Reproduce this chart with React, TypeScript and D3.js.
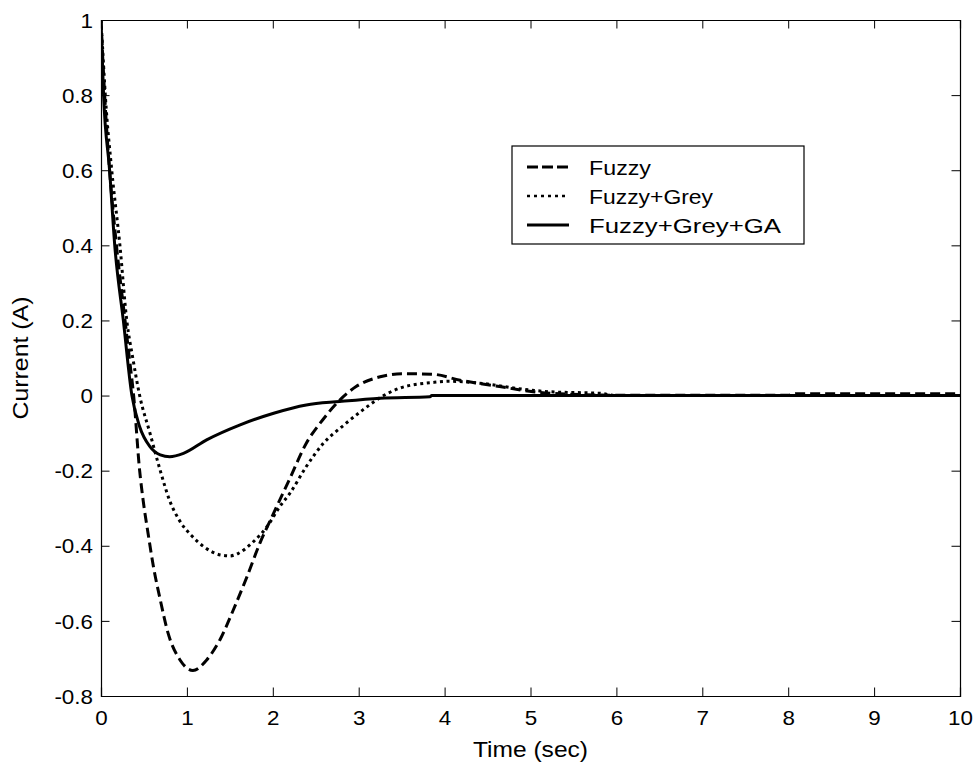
import React, { useEffect, useRef } from "react";
import * as d3 from "d3";

// Fuzzy controller (dashed)
const fuzzyT = [0, 0.02, 0.05, 0.1, 0.18, 0.28, 0.33, 0.38, 0.45, 0.49, 0.55, 0.61, 0.69, 0.78, 0.92, 1.07, 1.23, 1.385, 1.54, 1.7, 1.85, 2.01, 2.2, 2.39, 2.58, 2.78, 2.97, 3.25, 3.5, 3.85, 4.18, 4.64, 5.03, 5.42, 6.0, 8.0, 8.1, 10];
const fuzzyI = [1.0, 0.9, 0.77, 0.6, 0.4, 0.2, 0.1, 0.0, -0.2, -0.278, -0.37, -0.455, -0.544, -0.632, -0.704, -0.732, -0.704, -0.65, -0.571, -0.482, -0.393, -0.313, -0.22, -0.127, -0.065, -0.012, 0.024, 0.05, 0.058, 0.057, 0.041, 0.024, 0.01, 0.004, 0.001, 0.001, 0.005, 0.005];

// Fuzzy+Grey (dotted)
const greyT = [0, 0.02, 0.05, 0.125, 0.22, 0.3, 0.37, 0.45, 0.57, 0.69, 0.8, 0.92, 1.05, 1.2, 1.4, 1.5, 1.6, 1.77, 1.93, 2.08, 2.2, 2.39, 2.59, 2.82, 3.05, 3.29, 3.48, 3.87, 4.06, 4.45, 4.84, 5.23, 5.81, 6.0, 10];
const greyI = [1.0, 0.92, 0.8, 0.6, 0.4, 0.2, 0.1, 0.0, -0.1, -0.2, -0.28, -0.335, -0.372, -0.403, -0.425, -0.427, -0.42, -0.39, -0.35, -0.296, -0.26, -0.189, -0.127, -0.08, -0.038, 0.0, 0.02, 0.035, 0.038, 0.032, 0.019, 0.01, 0.006, 0.0, 0.0];

// Fuzzy+Grey+GA (solid)
const gaT = [0, 0.03, 0.1, 0.16, 0.26, 0.36, 0.45, 0.57, 0.69, 0.8, 0.96, 1.23, 1.62, 2.01, 2.39, 2.78, 3.25, 3.83, 3.85, 10];
const gaI = [1.0, 0.8, 0.6, 0.4, 0.2, 0.0, -0.083, -0.136, -0.158, -0.163, -0.154, -0.118, -0.078, -0.047, -0.025, -0.016, -0.007, -0.003, 0.0, 0.0];

const seriesNames = ["Fuzzy", "Fuzzy+Grey", "Fuzzy+Grey+GA"];
const xTicks = [0, 1, 2, 3, 4, 5, 6, 7, 8, 9, 10];
const yTicks = [-0.8, -0.6, -0.4, -0.2, 0, 0.2, 0.4, 0.6, 0.8, 1];

const W = 979;
const H = 769;
const margin = { top: 20, right: 19, bottom: 73, left: 101 };
const font = "'Liberation Sans', Arial, Helvetica, sans-serif";

export default function App() {
  const ref = useRef<SVGSVGElement>(null);

  useEffect(() => {
    document.body.style.margin = "0";
    const svg = d3.select(ref.current);
    svg.selectAll("*").remove();

    const w = W - margin.left - margin.right;
    const h = H - margin.top - margin.bottom;
    const g = svg.append("g").attr("transform", `translate(${margin.left},${margin.top})`);

    const x = d3.scaleLinear().domain([0, 10]).range([0, w]);
    const y = d3.scaleLinear().domain([-0.8, 1]).range([h, 0]);

    const styles = [
      { t: fuzzyT, v: fuzzyI, dash: "10,5", width: 3 },
      { t: greyT, v: greyI, dash: "3,3.6", width: 3 },
      { t: gaT, v: gaI, dash: null, width: 3 },
    ];

    g.append("clipPath").attr("id", "plotclip")
      .append("rect").attr("x", 0).attr("y", -2).attr("width", w).attr("height", h + 2);

    const line = d3.line<[number, number]>()
      .x((d) => x(d[0]))
      .y((d) => y(d[1]))
      .curve(d3.curveMonotoneX);

    styles.forEach((s) => {
      const pts = s.t.map((t, i) => [t, s.v[i]] as [number, number]);
      g.append("path")
        .attr("d", line(pts))
        .attr("fill", "none")
        .attr("stroke", "#000")
        .attr("stroke-width", s.width)
        .attr("stroke-dasharray", s.dash)
        .attr("clip-path", "url(#plotclip)");
    });

    const tick = 8.5;
    const sx = 1.12;

    // bottom and top axes
    const bottom = g.append("g").attr("transform", `translate(0,${h})`)
      .call(d3.axisBottom(x).tickValues(xTicks).tickSize(-tick).tickPadding(0).tickFormat((d) => String(d)));
    bottom.selectAll("text")
      .attr("y", 29)
      .attr("dy", null)
      .attr("transform", `scale(${sx},1)`);
    g.append("g")
      .call(d3.axisTop(x).tickValues(xTicks).tickSize(-tick).tickFormat(() => ""));

    // left and right axes
    const left = g.append("g")
      .call(d3.axisLeft(y).tickValues(yTicks).tickSize(-tick).tickPadding(0).tickFormat((d) => String(+d)));
    left.selectAll("text")
      .attr("x", -8 / sx)
      .attr("dy", "0.36em")
      .attr("transform", `scale(${sx},1)`);
    g.append("g").attr("transform", `translate(${w},0)`)
      .call(d3.axisRight(y).tickValues(yTicks).tickSize(-tick).tickFormat(() => ""));

    g.selectAll(".domain").attr("stroke", "#000").attr("stroke-width", 1.2);
    g.selectAll(".tick line").attr("stroke", "#000").attr("stroke-width", 1);
    g.selectAll(".tick text")
      .style("font-family", font)
      .style("font-size", "20px")
      .attr("fill", "#000");

    // axis labels
    svg.append("text")
      .attr("x", margin.left + w / 2)
      .attr("y", 757)
      .attr("text-anchor", "middle")
      .attr("textLength", 115)
      .attr("lengthAdjust", "spacingAndGlyphs")
      .style("font-family", font)
      .style("font-size", "21.5px")
      .text("Time (sec)");

    svg.append("text")
      .attr("transform", `translate(28,${margin.top + h / 2}) rotate(-90)`)
      .attr("text-anchor", "middle")
      .attr("textLength", 123)
      .attr("lengthAdjust", "spacingAndGlyphs")
      .style("font-family", font)
      .style("font-size", "21.5px")
      .text("Current (A)");

    // legend
    const lg = svg.append("g");
    lg.append("rect")
      .attr("x", 512).attr("y", 146)
      .attr("width", 292).attr("height", 98)
      .attr("fill", "#fff").attr("stroke", "#000").attr("stroke-width", 1.2);
    const rows = [167, 196, 225];
    const widths = [62, 124, 192];
    seriesNames.forEach((name, i) => {
      lg.append("line")
        .attr("x1", 527).attr("x2", 569)
        .attr("y1", rows[i]).attr("y2", rows[i])
        .attr("stroke", "#000")
        .attr("stroke-width", i === 1 ? 2.5 : 3)
        .attr("stroke-dasharray", i === 0 ? "11,4" : i === 1 ? "3,4" : null);
      lg.append("text")
        .attr("x", 589)
        .attr("y", rows[i] + 7.5)
        .attr("textLength", widths[i])
        .attr("lengthAdjust", "spacingAndGlyphs")
        .style("font-family", font)
        .style("font-size", "21px")
        .text(name);
    });
  }, []);

  return <svg ref={ref} width={W} height={H} style={{ display: "block", background: "#fff" }} />;
}
